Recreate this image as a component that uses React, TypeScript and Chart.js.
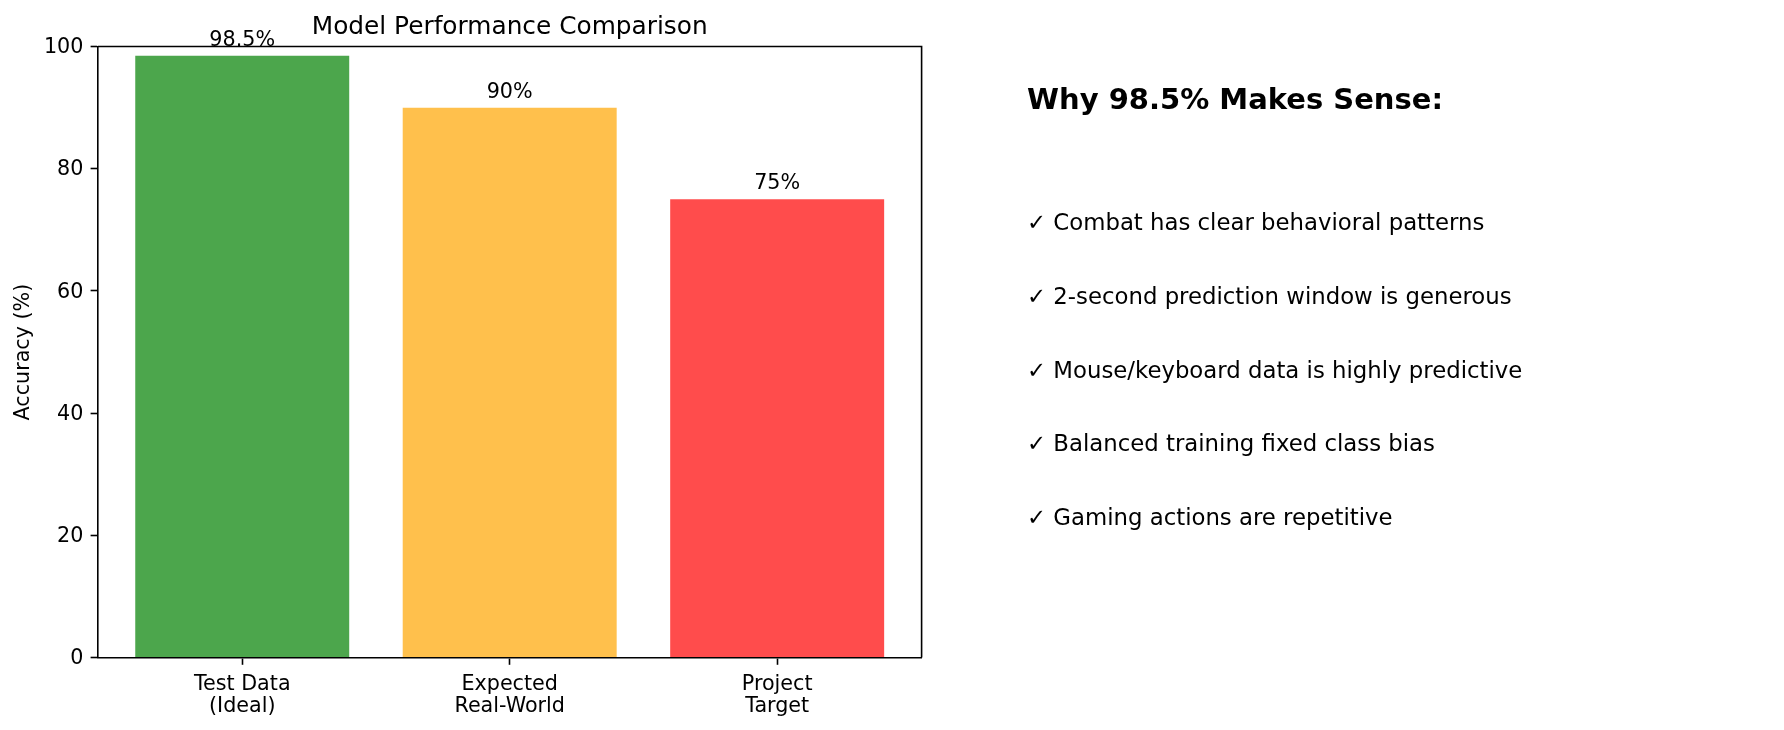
import React, { useEffect, useRef } from "react";
import { Chart, registerables } from "chart.js";

Chart.register(...registerables);

const categories: string[][] = [
  ["Test Data", "(Ideal)"],
  ["Expected", "Real-World"],
  ["Project", "Target"],
];
const accuracy: number[] = [98.5, 90, 75];
const valueLabels: string[] = ["98.5%", "90%", "75%"];
const barColors: string[] = [
  "rgba(0,128,0,0.7)",
  "rgba(255,165,0,0.7)",
  "rgba(255,0,0,0.7)",
];
const chartTitle = "Model Performance Comparison";
const yAxisTitle = "Accuracy (%)";
const headingText = "Why 98.5% Makes Sense:";
const reasons: string[] = [
  "✓ Combat has clear behavioral patterns",
  "✓ 2-second prediction window is generous",
  "✓ Mouse/keyboard data is highly predictive",
  "✓ Balanced training fixed class bias",
  "✓ Gaming actions are repetitive",
];

const FONT = "'DejaVu Sans', sans-serif";
const TICK_SIZE = 20.7;

const overlayPlugin = {
  id: "overlay",
  afterDraw(chart: any) {
    const { ctx, chartArea, scales } = chart;
    ctx.save();
    // top and right spines
    ctx.strokeStyle = "#000";
    ctx.lineWidth = 1.6;
    ctx.beginPath();
    ctx.moveTo(chartArea.left, chartArea.top);
    ctx.lineTo(chartArea.right, chartArea.top);
    ctx.lineTo(chartArea.right, chartArea.bottom);
    ctx.stroke();

    // value labels above bars
    ctx.fillStyle = "#000";
    ctx.font = `${TICK_SIZE}px ${FONT}`;
    ctx.textAlign = "center";
    ctx.textBaseline = "alphabetic";
    accuracy.forEach((v, i) => {
      const x = scales.x.getPixelForValue(i);
      const y = scales.y.getPixelForValue(v + 1);
      ctx.fillText(valueLabels[i], x, y - 0.19 * TICK_SIZE);
    });

    // right-hand explanatory text
    ctx.textAlign = "left";
    ctx.textBaseline = "middle";
    ctx.font = `bold 29px ${FONT}`;
    ctx.fillText(headingText, 1027, 101);
    ctx.font = `22.8px ${FONT}`;
    reasons.forEach((r, i) => {
      ctx.fillText(r, 1027, 224.5 + i * 73.6);
    });
    ctx.restore();
  },
};

export default function App() {
  const ref = useRef<HTMLCanvasElement | null>(null);

  useEffect(() => {
    if (!ref.current) return;
    const chart = new Chart(ref.current, {
      type: "bar",
      data: {
        datasets: [
          {
            data: accuracy.map((v, i) => ({ x: i, y: v })),
            backgroundColor: barColors,
            borderWidth: 0,
            categoryPercentage: 1,
            barPercentage: 0.8,
          },
        ],
      },
      options: {
        responsive: false,
        animation: false,
        layout: { padding: { left: 0, right: 862.4, top: 0, bottom: 0 } },
        plugins: {
          legend: { display: false },
          tooltip: { enabled: false },
          title: {
            display: true,
            text: chartTitle,
            fullSize: false,
            color: "#000",
            font: { family: FONT, size: 24.8, weight: "normal", lineHeight: 1.2 },
            padding: { top: 12.3, bottom: 4.5 },
          },
        },
        scales: {
          x: {
            type: "linear",
            min: -0.54,
            max: 2.54,
            offset: false,
            afterBuildTicks: (scale: any) => {
              scale.ticks = categories.map((_, i) => ({ value: i }));
            },
            afterFit: (scale: any) => {
              scale.height = 72.4;
            },
            ticks: {
              autoSkip: false,
              maxRotation: 0,
              color: "#000",
              padding: 8,
              font: { family: FONT, size: TICK_SIZE, lineHeight: 1.1 },
              callback: (value: any) => categories[Math.round(value)] ?? "",
            },
            grid: {
              offset: false,
              drawOnChartArea: false,
              drawTicks: true,
              tickLength: 7.2,
              tickWidth: 1.6,
              tickColor: "#000",
            },
            border: { display: true, color: "#000", width: 1.6 },
          },
          y: {
            min: 0,
            max: 100,
            afterFit: (scale: any) => {
              scale.width = 97.8;
            },
            ticks: {
              stepSize: 20,
              color: "#000",
              padding: 7.2,
              labelOffset: 1.2,
              font: { family: FONT, size: TICK_SIZE },
            },
            grid: {
              drawOnChartArea: false,
              drawTicks: true,
              tickLength: 7.2,
              tickWidth: 1.6,
              tickColor: "#000",
            },
            border: { display: true, color: "#000", width: 1.6 },
            title: {
              display: true,
              text: yAxisTitle,
              color: "#000",
              font: { family: FONT, size: TICK_SIZE, lineHeight: 1.2 },
              padding: { top: 11.6, bottom: 0 },
            },
          },
        },
      },
      plugins: [overlayPlugin],
    } as any);
    return () => chart.destroy();
  }, []);

  return (
    <div
      style={{
        position: "absolute",
        left: 0,
        top: 0,
        width: 1784,
        height: 730,
        background: "#fff",
      }}
    >
      <canvas ref={ref} width={1784} height={730} style={{ display: "block" }} />
    </div>
  );
}
